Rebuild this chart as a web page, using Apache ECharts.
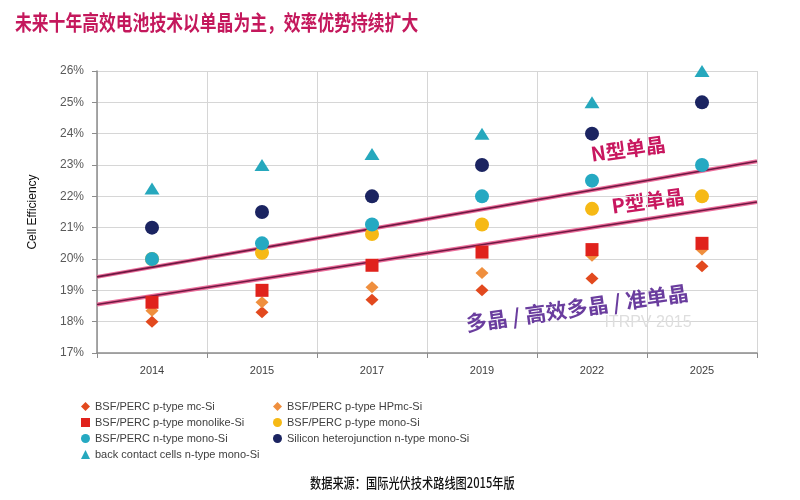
<!DOCTYPE html>
<html>
<head>
<meta charset="utf-8">
<script src="https://cdn.jsdelivr.net/npm/echarts@6/dist/echarts.min.js"></script>
<style>html,body{margin:0;padding:0;background:#fff}#c{width:800px;height:500px}</style>
</head>
<body>
<div id="c"></div>
<script>
var years = ['2014','2015','2017','2019','2022','2025'];
var mcSi = [18.0, 18.3, 18.7, 19.0, 19.38, 19.77];
var hpmcSi = [18.35, 18.62, 19.1, 19.55, 20.1, 20.3];
var monolikeSi = [18.62, 19.0, 19.8, 20.22, 20.3, 20.5];
var pMonoSi = [20.0, 20.2, 20.8, 21.1, 21.6, 22.0];
var nMonoSi = [20.0, 20.5, 21.1, 22.0, 22.5, 23.0];
var heteroSi = [21.0, 21.5, 22.0, 23.0, 24.0, 25.0];
var backContactSi = [22.25, 23.0, 23.35, 24.0, 25.0, 26.0];
var nTypeLine = [[0, 19.43], [6, 23.12]];
var pTypeLine = [[0, 18.55], [6, 21.82]];
var yTicks = [17, 26, 1];

var names = {
  mc: 'BSF/PERC p-type mc-Si',
  hpmc: 'BSF/PERC p-type HPmc-Si',
  monolike: 'BSF/PERC p-type monolike-Si',
  pmono: 'BSF/PERC p-type mono-Si',
  nmono: 'BSF/PERC n-type mono-Si',
  hetero: 'Silicon heterojunction n-type mono-Si',
  bc: 'back contact cells n-type mono-Si'
};

function sc(name, data, symbol, size, color) {
  return {
    type: 'scatter', name: name, data: data, symbol: symbol, symbolSize: size,
    xAxisIndex: 0, yAxisIndex: 0,
    itemStyle: { color: color, opacity: 1 }
  };
}
function ln(data, color, width, z) {
  return {
    type: 'line', data: data, xAxisIndex: 1, yAxisIndex: 0, symbol: 'none',
    lineStyle: { color: color, width: width }, z: z, silent: true
  };
}

var chart = echarts.init(document.getElementById('c'));
var legendText = { fontSize: 11, color: '#404040', fontFamily: '"Liberation Sans", sans-serif' };
chart.setOption({
  animation: false,
  backgroundColor: '#fff',
  grid: { left: 97, right: 43, top: 71, bottom: 147 },
  xAxis: [{
    type: 'category', data: years, boundaryGap: true,
    axisLine: { lineStyle: { color: '#8c8c8c', width: 1.5 } },
    axisTick: { show: true, length: 5, lineStyle: { color: '#8c8c8c' } },
    axisLabel: { color: '#404040', fontSize: 11, margin: 12, fontFamily: 'Liberation Sans, sans-serif' },
    splitLine: { show: true, lineStyle: { color: '#d6d6d6' } }
  }, {
    type: 'value', min: 0, max: 6, show: false
  }],
  yAxis: {
    type: 'value', min: yTicks[0], max: yTicks[1], interval: yTicks[2],
    name: 'Cell Efficiency', nameLocation: 'middle', nameGap: 58, nameRotate: 90,
    nameTextStyle: { color: '#111', fontSize: 12, fontFamily: '"Liberation Sans", sans-serif' },
    axisLine: { show: true, lineStyle: { color: '#8c8c8c', width: 1.5 } },
    axisTick: { show: true, length: 5, lineStyle: { color: '#8c8c8c' } },
    axisLabel: { formatter: '{value}%', color: '#595959', fontSize: 12, margin: 13, fontFamily: 'Liberation Sans, sans-serif' },
    splitLine: { show: true, lineStyle: { color: '#d6d6d6' } }
  },
  legend: [{
    orient: 'vertical', left: 76, top: 396, itemWidth: 9, itemHeight: 9, itemGap: 5,
    data: [names.mc, names.monolike, names.nmono, names.bc], textStyle: legendText,
    selectedMode: false
  }, {
    orient: 'vertical', left: 268, top: 396, itemWidth: 9, itemHeight: 9, itemGap: 5,
    data: [names.hpmc, names.pmono, names.hetero], textStyle: legendText,
    selectedMode: false
  }],
  graphic: [
    { type: 'text', left: 15, top: 12, scaleX: 0.8, style: { text: '未来十年高效电池技术以单晶为主，效率优势持续扩大', fill: '#c4185c', font: 'bold 21px "Noto Sans CJK SC", sans-serif' } },
    { type: 'text', x: 628, y: 149, rotation: 0.14, style: { text: 'N型单晶', fill: '#c8175f', font: 'bold 20px "Noto Sans CJK SC", sans-serif', align: 'center', verticalAlign: 'middle' } },
    { type: 'text', x: 648, y: 201, rotation: 0.14, style: { text: 'P型单晶', fill: '#c8175f', font: 'bold 20px "Noto Sans CJK SC", sans-serif', align: 'center', verticalAlign: 'middle' } },
    { type: 'text', x: 648, y: 323, style: { text: 'ITRPV 2015', fill: '#dedede', font: '16px "Liberation Sans", sans-serif', align: 'center', verticalAlign: 'middle' }, z: 1 },
    { type: 'text', x: 577, y: 308, rotation: 0.14, style: { text: '多晶 / 高效多晶 / 准单晶', fill: '#6a3d9e', font: 'bold 21px "Noto Sans CJK SC", sans-serif', align: 'center', verticalAlign: 'middle' }, z: 2 },
    { type: 'text', left: 310, top: 476, scaleX: 0.8, style: { text: '数据来源：国际光伏技术路线图2015年版', fill: '#111', font: '500 14px "Noto Sans CJK SC", sans-serif' } }
  ],
  series: [
    ln(nTypeLine, '#ec6f9c', 4, 1),
    ln(nTypeLine, '#6e1842', 1.6, 2),
    ln(pTypeLine, '#ec6f9c', 4, 1),
    ln(pTypeLine, '#6e1842', 1.6, 2),
    sc(names.mc, mcSi, 'diamond', [13, 12], '#e2491e'),
    sc(names.hpmc, hpmcSi, 'diamond', [13, 12], '#ef8f3e'),
    sc(names.monolike, monolikeSi, 'rect', 13, '#e0221c'),
    sc(names.pmono, pMonoSi, 'circle', 14, '#f6b915'),
    sc(names.nmono, nMonoSi, 'circle', 14, '#25a9c2'),
    sc(names.hetero, heteroSi, 'circle', 14, '#1b2461'),
    sc(names.bc, backContactSi, 'triangle', [15, 12], '#26a8bd')
  ]
});
</script>
</body>
</html>
